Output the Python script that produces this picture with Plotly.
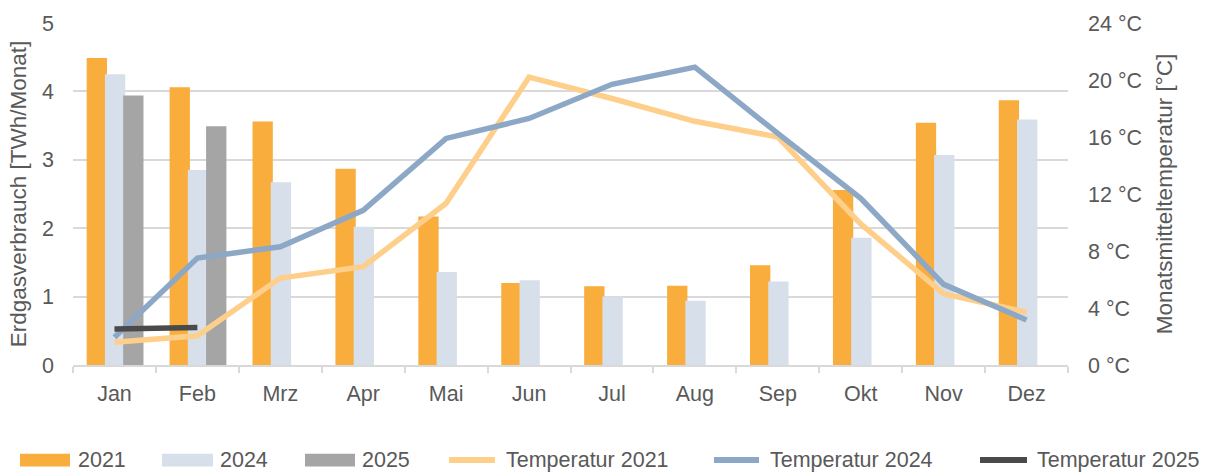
import plotly.graph_objects as go

months = ["Jan", "Feb", "Mrz", "Apr", "Mai", "Jun", "Jul", "Aug", "Sep", "Okt", "Nov", "Dez"]
gas_2021 = [4.49, 4.06, 3.56, 2.87, 2.17, 1.20, 1.15, 1.16, 1.46, 2.56, 3.54, 3.87]
gas_2024 = [4.25, 2.85, 2.67, 2.02, 1.36, 1.24, 1.00, 0.94, 1.22, 1.86, 3.07, 3.59]
gas_2025 = [3.94, 3.49, None, None, None, None, None, None, None, None, None, None]
temp_2021 = [1.6, 2.05, 6.1, 6.9, 11.35, 20.2, 18.7, 17.1, 16.0, 9.9, 5.0, 3.7]
temp_2024 = [1.95, 7.5, 8.3, 10.85, 15.9, 17.3, 19.7, 20.9, 16.25, 11.7, 5.66, 3.16]
temp_2025 = [2.52, 2.63]
left_ticks = [0, 1, 2, 3, 4, 5]
right_ticks = [0, 4, 8, 12, 16, 20, 24]
right_tick_labels = [f"{t} °C" for t in right_ticks]

C21, C24, C25 = "#F9AD3C", "#D7DFEA", "#A5A5A5"
T21, T24, T25 = "#FECF8A", "#8DA8C7", "#4A4A4A"
TXT = "#595959"
GRID = "#D9D9D9"
FONT = "Liberation Sans, Arial, sans-serif"
FS = 21.5
FT = 22.5

fig = go.Figure()
bw = 0.245
for name, vals, col, off in [("2021", gas_2021, C21, -0.335),
                             ("2024", gas_2024, C24, -0.115),
                             ("2025", gas_2025, C25, 0.105)]:
    fig.add_trace(go.Bar(x=months, y=vals, name=name, marker_color=col,
                         marker_line_width=0, width=bw, offset=off))

for name, vals, col in [("Temperatur 2021", temp_2021, T21),
                        ("Temperatur 2024", temp_2024, T24),
                        ("Temperatur 2025", temp_2025, T25)]:
    fig.add_trace(go.Scatter(x=months[:len(vals)], y=vals, name=name, mode="lines",
                             line=dict(color=col, width=5.5), yaxis="y2"))

L, R, T, B = 73, 140, 16, 109
W, H = 1208, 474
pw, ph = W - L - R, H - T - B

def px(x):
    return (x - L) / pw

def py(y):
    return (H - B - y) / ph

# custom legend
legend_items = [("2021", "bar", C21, 20, 70, 76),
                ("2024", "bar", C24, 162, 213, 218),
                ("2025", "bar", C25, 305, 355, 360),
                ("Temperatur 2021", "line", T21, 446, 498, 504),
                ("Temperatur 2024", "line", T24, 711, 762, 768),
                ("Temperatur 2025", "line", T25, 977, 1030, 1035)]
shapes = []
annotations = []
ly = 462
for label, kind, col, x0, x1, tx in legend_items:
    if kind == "bar":
        shapes.append(dict(type="rect", xref="paper", yref="paper",
                           x0=px(x0), x1=px(x1), y0=py(ly + 6.5), y1=py(ly - 6.5),
                           fillcolor=col, line_width=0))
    else:
        shapes.append(dict(type="line", xref="paper", yref="paper",
                           x0=px(x0 + 3), x1=px(x1 - 3), y0=py(ly), y1=py(ly),
                           line=dict(color=col, width=6)))
    annotations.append(dict(text=label, xref="paper", yref="paper", x=px(tx), y=py(ly),
                            xanchor="left", yanchor="middle", showarrow=False,
                            font=dict(size=FS, color=TXT, family=FONT)))

fig.update_layout(
    width=W, height=H,
    margin=dict(l=L, r=R, t=T, b=B, pad=0),
    paper_bgcolor="white", plot_bgcolor="white",
    barmode="overlay",
    showlegend=False,
    font=dict(family=FONT, size=FS, color=TXT),
    xaxis=dict(type="category", categoryorder="array", categoryarray=months,
               showline=True, linecolor=GRID, linewidth=2,
               ticks="outside", tickson="boundaries", ticklen=6, tickcolor=GRID, tickwidth=2,
               ticklabelstandoff=8, tickfont=dict(size=FS, color=TXT),
               showgrid=False),
    yaxis=dict(range=[0, 5], tickvals=left_ticks, showgrid=True, gridcolor=GRID, gridwidth=2,
               zeroline=False, showline=False, ticks="", ticklabelstandoff=18,
               tickfont=dict(size=FS, color=TXT),
               title=dict(text="Erdgasverbrauch [TWh/Monat]", standoff=9,
                          font=dict(size=FT, color=TXT))),
    yaxis2=dict(range=[0, 24], overlaying="y", side="right", tickvals=right_ticks,
                ticktext=right_tick_labels, showgrid=False, zeroline=False, showline=False,
                ticks="", ticklabelstandoff=19, tickfont=dict(size=FS, color=TXT),
                title=dict(text="Monatsmitteltemperatur [°C]", standoff=15,
                           font=dict(size=FT, color=TXT))),
    shapes=shapes,
    annotations=annotations,
)

fig.write_html("out.html", config={"displayModeBar": False},
               post_script="document.body.style.margin='0';document.body.style.overflow='hidden';")
